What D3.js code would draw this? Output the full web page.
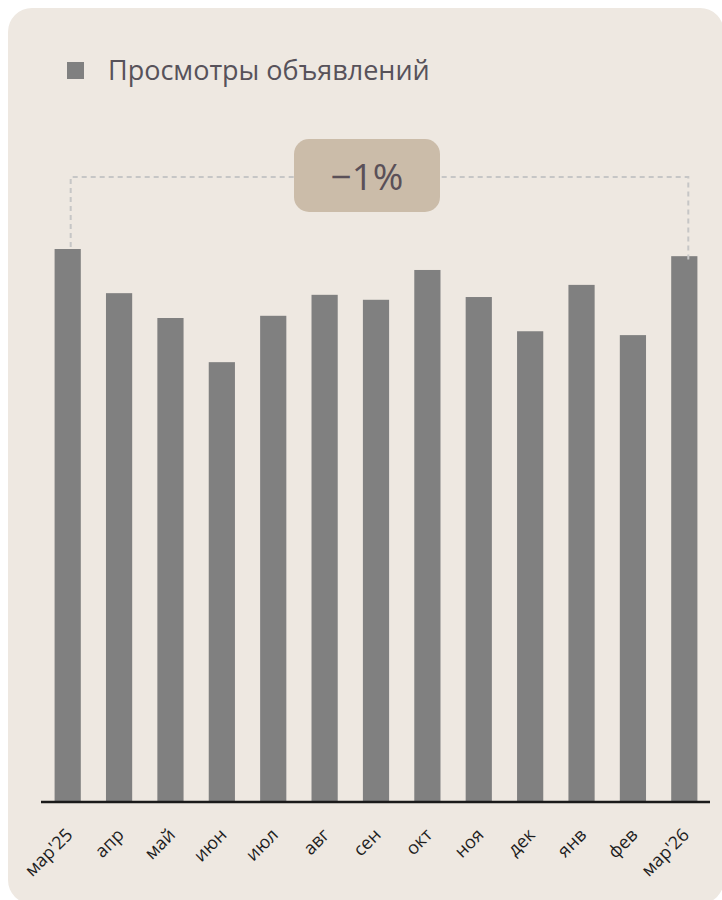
<!DOCTYPE html>
<html>
<head>
<meta charset="utf-8">
<script src="https://cdn.jsdelivr.net/npm/d3@7"></script>
<style>
  html, body { margin: 0; padding: 0; background: #ffffff; }
  svg { display: block; }
</style>
</head>
<body>
<svg id="chart" width="722" height="900"></svg>
<script>
const categories = ["мар'25", "апр", "май", "июн", "июл", "авг", "сен", "окт", "ноя", "дек", "янв", "фев", "мар'26"];
const views = [100, 92.0, 87.5, 79.5, 87.9, 91.7, 90.8, 96.2, 91.3, 85.1, 93.5, 84.4, 98.7];
const seriesName = "Просмотры объявлений";
const changeLabel = "\u22121%";

const svg = d3.select("#chart");
const font = "'Open Sans', 'Noto Sans', sans-serif";

// card background
svg.append("rect")
  .attr("x", 8).attr("y", 8)
  .attr("width", 716).attr("height", 896)
  .attr("rx", 24).attr("ry", 24)
  .attr("fill", "#EEE8E1");

const x = d3.scaleBand()
  .domain(categories)
  .range([42, 710])
  .paddingInner(0.49)
  .paddingOuter(0.245);

const y = d3.scaleLinear()
  .domain([0, 100])
  .range([801, 249]);

// bars
svg.append("g").selectAll("rect")
  .data(categories)
  .join("rect")
  .attr("x", d => x(d))
  .attr("width", x.bandwidth())
  .attr("y", (d, i) => y(views[i]))
  .attr("height", (d, i) => y(0) - y(views[i]))
  .attr("fill", "#808080");

// x axis
const xAxis = d3.axisBottom(x).tickSize(0).tickPadding(0);
const gx = svg.append("g")
  .attr("transform", `translate(0, ${y(0) + 1})`)
  .call(xAxis);
gx.select(".domain")
  .attr("d", "M41,0H710")
  .attr("stroke", "#1a1a1a")
  .attr("stroke-width", 2.6);
gx.selectAll(".tick text")
  .attr("font-family", font)
  .attr("font-size", 18)
  .attr("fill", "#1e1e1e")
  .attr("text-anchor", "end")
  .attr("y", 0)
  .attr("dy", null)
  .attr("transform", "translate(6, 34) rotate(-45)");

// annotation connector
const x0 = x(categories[0]) + x.bandwidth() / 2 + 3;
const x1 = x(categories[categories.length - 1]) + x.bandwidth() / 2 + 4;
const topY = 177;
svg.append("path")
  .attr("d", `M${x0},${y(views[0]) - 2}V${topY}H${x1}V${y(views[views.length - 1]) + 7}`)
  .attr("fill", "none")
  .attr("stroke", "#C6C6C6")
  .attr("stroke-width", 2)
  .attr("stroke-dasharray", "5,4");

// annotation box
svg.append("rect")
  .attr("x", 294).attr("y", 139)
  .attr("width", 146).attr("height", 73)
  .attr("rx", 15).attr("ry", 15)
  .attr("fill", "#CBBCA9");
svg.append("text")
  .attr("x", 367).attr("y", 190)
  .attr("text-anchor", "middle")
  .attr("font-family", font)
  .attr("font-size", 37)
  .attr("fill", "#5a5058")
  .text(changeLabel);

// legend
svg.append("rect")
  .attr("x", 67).attr("y", 62)
  .attr("width", 17).attr("height", 17)
  .attr("fill", "#808080");
svg.append("text")
  .attr("x", 108).attr("y", 80)
  .attr("font-family", font)
  .attr("font-size", 27)
  .attr("fill", "#57525A")
  .text(seriesName);
</script>
</body>
</html>
